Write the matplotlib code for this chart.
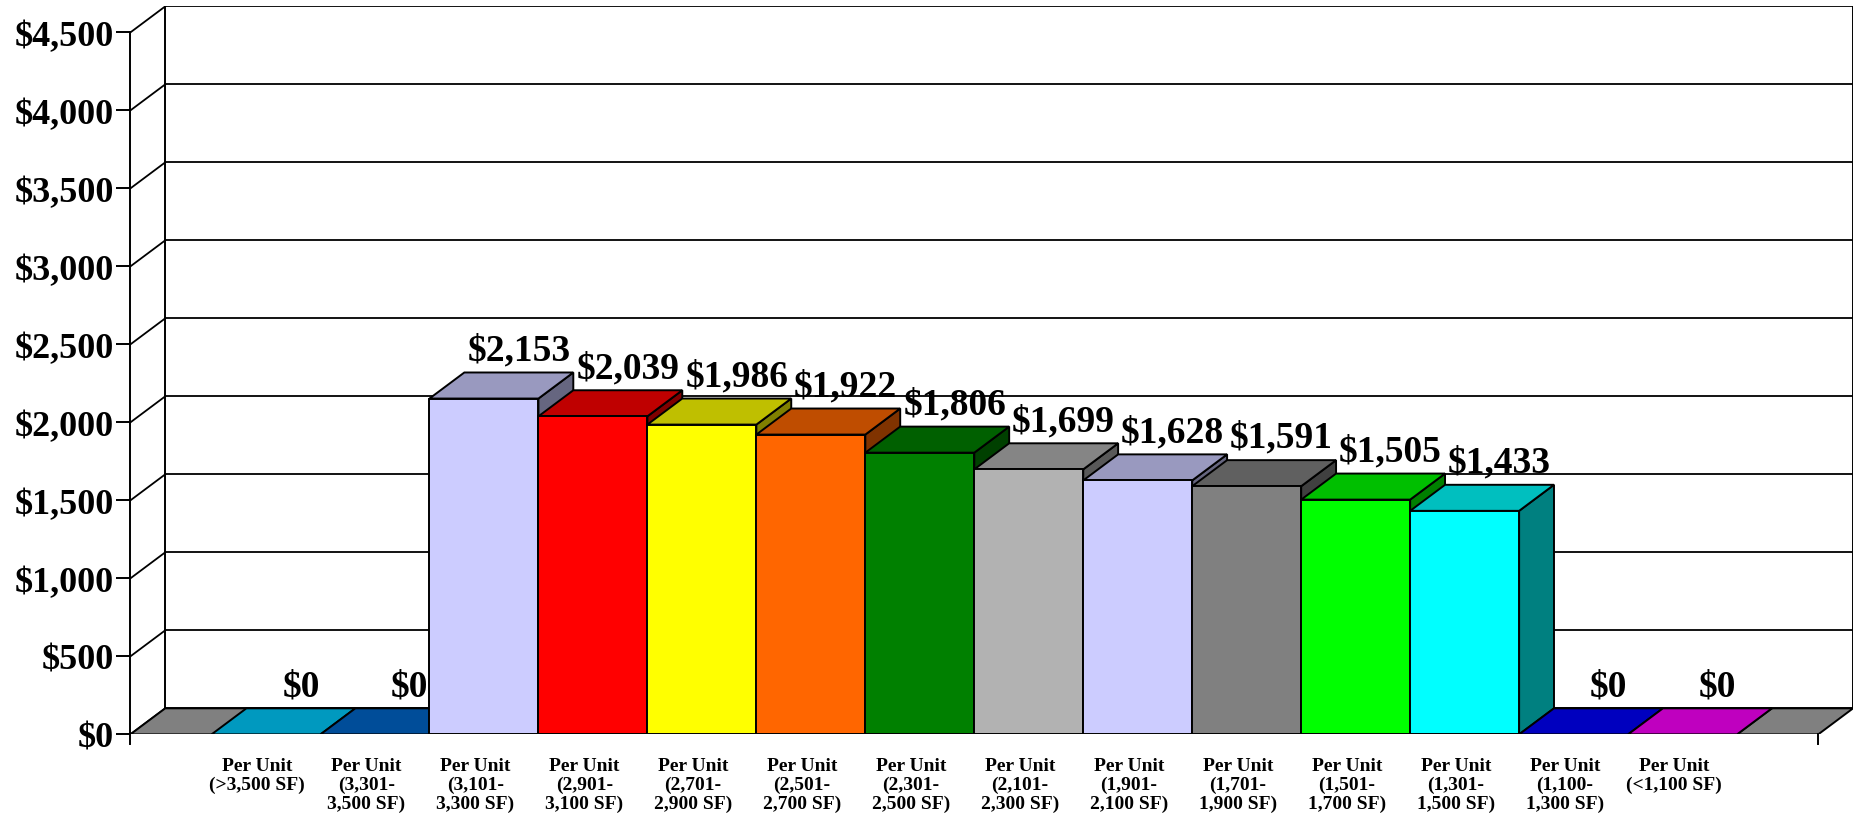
import numpy as np
import matplotlib.pyplot as plt
from matplotlib.patches import Polygon
from matplotlib.colors import to_rgb

plt.rcParams['font.family'] = ['Liberation Serif', 'DejaVu Serif']
plt.rcParams['font.weight'] = 'bold'

categories = ["Per Unit\n(>3,500 SF)", "Per Unit\n(3,301-\n3,500 SF)",
              "Per Unit\n(3,101-\n3,300 SF)", "Per Unit\n(2,901-\n3,100 SF)",
              "Per Unit\n(2,701-\n2,900 SF)", "Per Unit\n(2,501-\n2,700 SF)",
              "Per Unit\n(2,301-\n2,500 SF)", "Per Unit\n(2,101-\n2,300 SF)",
              "Per Unit\n(1,901-\n2,100 SF)", "Per Unit\n(1,701-\n1,900 SF)",
              "Per Unit\n(1,501-\n1,700 SF)", "Per Unit\n(1,301-\n1,500 SF)",
              "Per Unit\n(1,100-\n1,300 SF)", "Per Unit\n(<1,100 SF)"]
values = [0, 0, 2153, 2039, 1986, 1922, 1806, 1699, 1628, 1591, 1505, 1433, 0, 0]
colors = ['#00CCFF', '#0066CC', '#CCCCFF', '#FF0000', '#FFFF00', '#FF6600', '#008000',
          '#B2B2B2', '#CCCCFF', '#808080', '#00FF00', '#00FFFF', '#0000FF', '#FF00FF']
yticks = np.arange(0, 4501, 500)


def shade(c, f):
    r, g, b = to_rgb(c)
    return (r * f, g * f, b * f)


# fake 3d depth (x in category units, y in dollars)
DX = 0.32
DY = 167
margin = 0.745
x_left = -0.5 - margin
x_right = len(values) - 0.5 + margin
ymax = yticks[-1]
lw = 1.4

fig = plt.figure(figsize=(18.57, 8.2), dpi=100)
ax = fig.add_axes([0.0702, 0.1032, 0.9277, 0.8878])
ax.set_xlim(x_left, x_right + DX)
ax.set_ylim(0, ymax + DY)
for s in ax.spines.values():
    s.set_visible(False)

# walls
for t in yticks:
    ax.plot([x_left + DX, x_right + DX], [t + DY, t + DY], color='black', lw=1.3, zorder=1)
    ax.plot([x_left, x_left + DX], [t, t + DY], color='black', lw=1.3, zorder=1)
ax.plot([x_left + DX] * 2, [DY, ymax + DY], color='black', lw=lw, zorder=1)
ax.plot([x_right + DX] * 2, [DY, ymax + DY], color='black', lw=lw, zorder=1)
ax.plot([x_left] * 2, [-60, ymax], color='black', lw=lw, zorder=1, clip_on=False)

floor = Polygon([(x_left, 0), (x_right, 0), (x_right + DX, DY), (x_left + DX, DY)],
                facecolor='#808080', edgecolor='black', lw=lw, zorder=2)
ax.add_patch(floor)
ax.plot([x_right] * 2, [0, -60], color='black', lw=lw, zorder=2, clip_on=False)

# bars, drawn left to right so later ones cover earlier side faces
for i, (v, c) in enumerate(zip(values, colors)):
    x0, x1 = i - 0.5, i + 0.5
    z = 3 + i
    ax.add_patch(Polygon([(x1, 0), (x1 + DX, DY), (x1 + DX, v + DY), (x1, v)],
                         facecolor=shade(c, 0.5), edgecolor='black', lw=lw, zorder=z))
    ax.add_patch(Polygon([(x0, v), (x1, v), (x1 + DX, v + DY), (x0 + DX, v + DY)],
                         facecolor=shade(c, 0.75), edgecolor='black', lw=lw, zorder=z))
    if v > 0:
        ax.add_patch(Polygon([(x0, 0), (x1, 0), (x1, v), (x0, v)],
                             facecolor=c, edgecolor='black', lw=lw, zorder=z))
    ax.text(i + DX, v + DY + 85, f"${v:,}", ha='center', va='baseline',
            fontsize=27, zorder=50)

ax.set_yticks(yticks, [f"${t:,}" for t in yticks])
ax.tick_params(axis='y', length=10, width=lw, pad=2, labelsize=26)
ax.set_xticks(np.arange(len(categories)) - 0.08, categories)
ax.tick_params(axis='x', length=0, pad=16, labelsize=14)
for lab in ax.get_xticklabels():
    lab.set_linespacing(1.15)

fig.savefig('out.png', dpi=100)
